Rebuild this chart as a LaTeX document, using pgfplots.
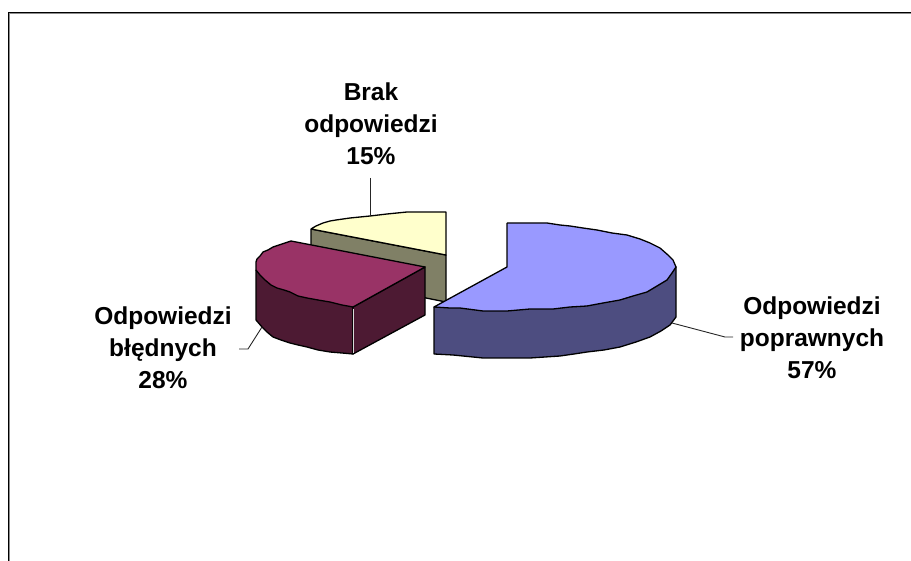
\documentclass[border=0pt]{standalone}
\usepackage{fontspec}
\setmainfont{Liberation Sans}
\usepackage{pgfplots}
\pgfplotsset{compat=1.18}
\definecolor{BlueTop}{HTML}{9999FF}
\definecolor{BlueSide}{HTML}{4D4D80}
\definecolor{RedTop}{HTML}{993366}
\definecolor{RedSide}{HTML}{4D1A33}
\definecolor{YellowTop}{HTML}{FFFFCC}
\definecolor{YellowSide}{HTML}{808066}
\tikzset{
  slice/.style={draw=black,line width=1.3pt,line join=round},
  leader/.style={draw=black!85,line width=0.9pt},
  lab/.style={align=center,font=\fontsize{24.5}{32}\selectfont\bfseries},
}

\begin{document}
\begin{tikzpicture}
\begin{axis}[
    width=911pt,height=561pt,scale only axis,
    xmin=0,xmax=911,ymin=0,ymax=561,
    y dir=reverse,
    axis line style={draw=none},
    ticks=none,
    clip=true,
  ]
  % frame, with its grey shadow
  \addplot[draw=black!45,line width=1pt] coordinates {(9.5,561) (9.5,14) (911,14)};
  \addplot[draw=black,line width=1.3pt] coordinates {(8.5,561) (8.5,12.5) (911,12.5)};

  % Brak odpowiedzi
  \addplot[slice,fill=YellowSide] coordinates {(311,229) (446,255) (446,302) (311,275) (311,229)};
  \addplot[slice,fill=YellowTop] coordinates {
    (311,229) (316,226) (323,223) (330,221) (336,220) (350,218) (370,216) (387,214) (407,212) (446,212) (446,255) (311,229)
  };

  % Odpowiedzi bledne
  \addplot[slice,fill=RedSide] coordinates {
    (256,270) (256,320) (262,327) (267,332) (273,337) (281,340) (290,343) (298,345) (307,347)
    (318,350) (330,352) (342,353) (353,354) (353,307) (256,270)
  };
  \addplot[slice,fill=RedSide] coordinates {(353,307) (353,354) (425,315) (425,267) (353,307)};
  \addplot[draw=white!85!black,line width=1pt] coordinates {(353,309) (353,353)};
  \addplot[slice,fill=RedTop] coordinates {
    (291,241) (282,244) (273,247) (268,250) (263,252) (260,256) (257,259) (256,262) (256,270)
    (260,275) (265,280) (271,285) (277,288) (284,290) (290,292) (298,296) (307,298) (318,300)
    (330,302) (342,305) (353,307) (425,267) (291,241)
  };

  % Odpowiedzi poprawne
  \addplot[slice,fill=BlueSide] coordinates {
    (434,307) (434,354) (453,355) (483,358) (507,358) (530,358) (560,356) (574,354) (587,352)
    (604,350) (620,347) (636,342) (650,337) (661,331) (670,325) (676,317) (676,267) (434,307)
  };
  \addplot[slice,fill=BlueTop] coordinates {
    (507,223) (547,223) (560,225) (570,226) (583,228) (597,230) (612,233) (627,235) (640,239)
    (650,243) (660,248) (668,255) (673,260) (676,267) (672,273) (667,280) (657,286) (647,292)
    (633,296) (620,300) (603,303) (587,306) (570,307) (553,309) (530,309) (507,311) (483,311)
    (460,308) (450,308) (434,307) (507,267) (507,223)
  };

  % leader lines
  \addplot[leader] coordinates {(672,323) (725,337) (733,337)};
  \addplot[leader] coordinates {(239,349) (248,349) (262,327)};
  \addplot[leader] coordinates {(370,178) (370,216)};

  \node[lab] at (axis cs:371,124) {Brak\\odpowiedzi\\15\%};
  \node[lab] at (axis cs:163,348) {Odpowiedzi\\błędnych\\28\%};
  \node[lab] at (axis cs:812,338) {Odpowiedzi\\poprawnych\\57\%};
\end{axis}
\end{tikzpicture}
\end{document}
